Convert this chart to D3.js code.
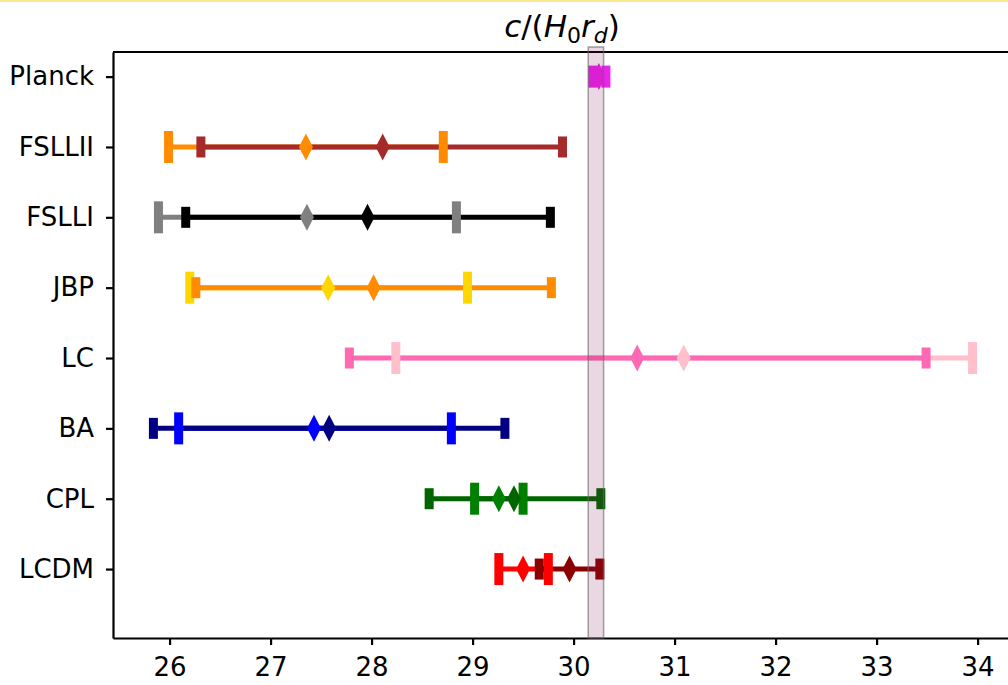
<!DOCTYPE html>
<html>
<head>
<meta charset="utf-8">
<script src="https://d3js.org/d3.v7.min.js"></script>
<style>
  body { margin: 0; background: white; }
  text { font-family: "DejaVu Sans", sans-serif; }
</style>
</head>
<body>
<script>

// rows, bottom to top
var models = ["LCDM", "CPL", "BA", "LC", "JBP", "FSLLI", "FSLLII", "Planck"];

// first set of constraints (tall caps)
var lowA   = [29.26, 29.02, 26.09, 28.24, 26.20, 25.89, 25.99, null];
var meanA  = [29.50, 29.26, 27.43, 31.09, 27.57, 27.36, 27.35, null];
var highA  = [29.75, 29.50, 28.79, 33.95, 28.95, 28.84, 28.71, null];
var colorA = ["red", "green", "blue", "pink", "gold", "gray", "darkorange", null];

// second set of constraints (short caps)
var lowB   = [29.66, 28.57, 25.84, 27.78, 26.26, 26.16, 26.31, 30.19];
var meanB  = [29.96, 29.41, 27.58, 30.63, 28.02, 27.96, 28.11, 30.25];
var highB  = [30.26, 30.27, 29.32, 33.49, 29.78, 29.77, 29.89, 30.32];
var colorB = ["darkred", "darkgreen", "navy", "hotpink", "darkorange", "black", "brown", "#ee22ee"];

// shaded Planck band
var band = [30.145, 30.297];

var xTicks = [26, 27, 28, 29, 30, 31, 32, 33, 34];

var width = 1008;
var height = 685;

var mLeft = 113, mRight = 1017, mTop = 52, mBottom = 638;

var svg = d3.select("body").append("svg")
    .attr("width", width)
    .attr("height", height);

svg.append("rect")
    .attr("width", width)
    .attr("height", height)
    .attr("fill", "white");

// thin yellow strip at the very top
svg.append("rect")
    .attr("x", 0).attr("y", 0)
    .attr("width", width).attr("height", 2)
    .attr("fill", "#fce88e");

var x = d3.scaleLinear().domain([25.44, 34.39]).range([mLeft, mRight]);
var y = d3.scaleLinear().domain([-0.98, 7.35]).range([mBottom, mTop]);

// build list of error bars
var bars = [];
for (var i = 0; i < models.length; i++) {
    if (lowA[i] != null) bars.push({row: i, lo: lowA[i], mid: meanA[i], hi: highA[i], color: colorA[i], cap: 32});
    if (lowB[i] != null) bars.push({row: i, lo: lowB[i], mid: meanB[i], hi: highB[i], color: colorB[i], cap: i == 7 ? 22 : 21});
}

var plot = svg.append("g");

// horizontal bars
plot.selectAll(".bar").data(bars).enter().append("line")
    .attr("class", "bar")
    .attr("x1", function(d) { return x(d.lo); })
    .attr("x2", function(d) { return x(d.hi); })
    .attr("y1", function(d) { return y(d.row); })
    .attr("y2", function(d) { return y(d.row); })
    .attr("stroke", function(d) { return d.color; })
    .attr("stroke-width", 5);

// caps
bars.forEach(function(d) {
    [d.lo, d.hi].forEach(function(v) {
        plot.append("rect")
            .attr("x", x(v) - 4.5)
            .attr("y", y(d.row) - d.cap / 2)
            .attr("width", 9)
            .attr("height", d.cap)
            .attr("fill", d.color);
    });
});

// diamond markers
plot.selectAll(".mk").data(bars).enter().append("path")
    .attr("class", "mk")
    .attr("d", "M0,-13.5L7,0L0,13.5L-7,0Z")
    .attr("transform", function(d) { return "translate(" + x(d.mid) + "," + y(d.row) + ")"; })
    .attr("fill", function(d) { return d.color; });

// axes
var xAxis = svg.append("g")
    .attr("transform", "translate(0," + mBottom + ")")
    .call(d3.axisBottom(x).tickValues(xTicks).tickSize(7).tickSizeOuter(0).tickPadding(13));

var yAxis = svg.append("g")
    .attr("transform", "translate(" + mLeft + ",0)")
    .call(d3.axisLeft(y).tickValues(d3.range(models.length))
        .tickFormat(function(i) { return models[i]; })
        .tickSize(7).tickSizeOuter(0).tickPadding(12));

[xAxis, yAxis].forEach(function(a) {
    a.attr("font-size", 26).attr("font-family", "DejaVu Sans, sans-serif");
    a.selectAll("path, line").attr("stroke", "black").attr("stroke-width", 2.2);
    a.selectAll("text").attr("font-size", 26).attr("fill", "black");
});

// top spine
svg.append("line")
    .attr("x1", mLeft).attr("x2", mRight)
    .attr("y1", mTop).attr("y2", mTop)
    .attr("stroke", "black").attr("stroke-width", 2.2);

// Planck band (drawn over the bars, semi transparent)
svg.append("rect")
    .attr("x", x(band[0]))
    .attr("y", 47)
    .attr("width", x(band[1]) - x(band[0]))
    .attr("height", mBottom - 47)
    .attr("fill", "#7a1450")
    .attr("fill-opacity", 0.17)
    .attr("stroke", "#666")
    .attr("stroke-opacity", 0.6)
    .attr("stroke-width", 1.5);

// title c/(H_0 r_d)
var title = svg.append("text")
    .attr("x", 562)
    .attr("y", 37)
    .attr("text-anchor", "middle")
    .attr("font-size", "31px")
    .attr("fill", "black");

title.append("tspan").attr("font-style", "italic").text("c");
title.append("tspan").text("/(");
title.append("tspan").attr("font-style", "italic").text("H");
title.append("tspan").attr("font-size", "22px").attr("dy", 6).text("0");
title.append("tspan").attr("font-style", "italic").attr("dy", -6).text("r");
title.append("tspan").attr("font-style", "italic").attr("font-size", "22px").attr("dy", 6).text("d");
title.append("tspan").attr("dy", -6).text(")");

</script>
</body>
</html>
